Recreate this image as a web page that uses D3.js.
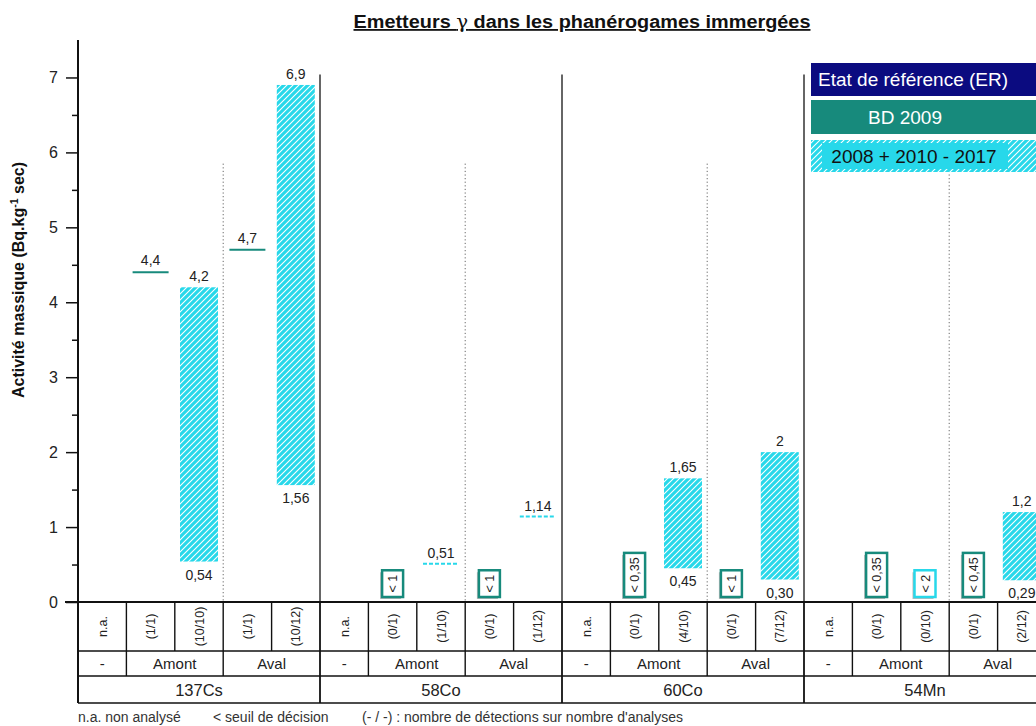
<!DOCTYPE html>
<html><head><meta charset="utf-8">
<script src="https://cdn.jsdelivr.net/npm/d3@7"></script>
<style>
body{margin:0;background:#fff;}
svg{display:block;font-family:"Liberation Sans",Arial,sans-serif;}
</style></head>
<body><svg id="chart" width="1036" height="726"></svg>
<script>
// ---------- data ----------
const groups = ["137Cs", "58Co", "60Co", "54Mn"];
const subColumns = ["na", "amBD", "amS", "avBD", "avS"];
const zoneLabels = ["-", "Amont", "Aval"];
const zoneSpans = [1, 2, 2];
const detections = [
  ["n.a.", "(1/1)", "(10/10)", "(1/1)", "(10/12)"],
  ["n.a.", "(0/1)", "(1/10)", "(0/1)", "(1/12)"],
  ["n.a.", "(0/1)", "(4/10)", "(0/1)", "(7/12)"],
  ["n.a.", "(0/1)", "(0/10)", "(0/1)", "(2/12)"]
];
const yTicks = [0, 1, 2, 3, 4, 5, 6, 7];
// BD 2009 single values: [group, column, value, label]
const bdLevels = [
  ["137Cs", "amBD", 4.4, "4,4"],
  ["137Cs", "avBD", 4.7, "4,7"]
];
// 2008 + 2010-2017 ranges: [group, column, min, max, minLabel, maxLabel]
const rangeBars = [
  ["137Cs", "amS", 0.54, 4.2, "0,54", "4,2"],
  ["137Cs", "avS", 1.56, 6.9, "1,56", "6,9"],
  ["60Co", "amS", 0.45, 1.65, "0,45", "1,65"],
  ["60Co", "avS", 0.30, 2.0, "0,30", "2"],
  ["54Mn", "avS", 0.29, 1.2, "0,29", "1,2"]
];
// single detections of the 2008 + 2010-2017 series
const singleDetections = [
  ["58Co", "amS", 0.51, "0,51"],
  ["58Co", "avS", 1.14, "1,14"]
];
// below decision threshold: [group, column, text, series]
const belowThreshold = [
  ["58Co", "amBD", "< 1", "bd"],
  ["58Co", "avBD", "< 1", "bd"],
  ["60Co", "amBD", "< 0,35", "bd"],
  ["60Co", "avBD", "< 1", "bd"],
  ["54Mn", "amBD", "< 0,35", "bd"],
  ["54Mn", "amS", "< 2", "suivi"],
  ["54Mn", "avBD", "< 0,45", "bd"]
];
const legendItems = ["Etat de référence (ER)", "BD 2009", "2008 + 2010 - 2017"];

// ---------- styles ----------
const NAVY = "#0b0b80", TEAL = "#178a7c", CYAN = "#27d8ea";
const svg = d3.select("#chart");
const defs = svg.append("defs");
const pat = defs.append("pattern").attr("id", "hatch").attr("patternUnits", "userSpaceOnUse")
  .attr("width", 6).attr("height", 6);
pat.append("rect").attr("width", 6).attr("height", 6).attr("fill", CYAN);
pat.append("path").attr("d", "M-1,1 l2,-2 M0,6 l6,-6 M5,7 l2,-2")
  .attr("stroke", "#fff").attr("stroke-width", 1.1);

// ---------- scales ----------
const colKeys = [];
groups.forEach(g => subColumns.forEach(s => colKeys.push(g + "|" + s)));
const x = d3.scaleBand().domain(colKeys).range([78, 78 + 48.4 * colKeys.length]).padding(0);
const gx = d3.scaleBand().domain(groups).range([78, 78 + 48.4 * colKeys.length]).padding(0);
const y = d3.scaleLinear().domain([0, 7.5]).range([602, 40]);
const key = (g, s) => g + "|" + s;
const cx = (g, s) => x(key(g, s)) + x.bandwidth() / 2;

// ---------- title ----------
const title = svg.append("text").attr("x", 582).attr("y", 28).attr("text-anchor", "middle")
  .attr("font-size", 18).attr("font-weight", "bold").attr("text-decoration", "underline").attr("fill", "#111")
  .attr("textLength", 457).attr("lengthAdjust", "spacingAndGlyphs");
title.append("tspan").text("Emetteurs ");
title.append("tspan").attr("font-weight", "normal").attr("font-family", "DejaVu Serif").text("γ");
title.append("tspan").text(" dans les phanérogames immergées");

// ---------- group separators ----------
groups.slice(1).forEach(g => {
  svg.append("line").attr("x1", gx(g)).attr("x2", gx(g)).attr("y1", y(7.04)).attr("y2", y(0))
    .attr("stroke", "#333").attr("stroke-width", 1.5);
});
groups.forEach(g => {
  const xx = x(key(g, "avBD"));
  svg.append("line").attr("x1", xx).attr("x2", xx).attr("y1", y(5.85)).attr("y2", y(0))
    .attr("stroke", "#666").attr("stroke-width", 1).attr("stroke-dasharray", "1.2,2.4");
});

// ---------- axes ----------
const yAxis = svg.append("g").attr("transform", "translate(78,0)")
  .call(d3.axisLeft(y).tickValues(yTicks).tickSize(12).tickPadding(8).tickFormat(d3.format("d")));
yAxis.select(".domain").remove();
yAxis.selectAll(".tick line").attr("stroke", "#111").attr("stroke-width", 1.5);
yAxis.selectAll(".tick text").attr("font-size", 16).attr("fill", "#222").attr("font-family", "Liberation Sans, Arial");
const minor = svg.append("g").attr("transform", "translate(78,0)")
  .call(d3.axisLeft(y).tickValues(d3.range(0.5, 7.5, 1)).tickSize(6).tickFormat(""));
minor.select(".domain").remove();
minor.selectAll(".tick line").attr("stroke", "#111").attr("stroke-width", 1.5);
svg.append("line").attr("x1", 78).attr("x2", 78).attr("y1", y(7.5)).attr("y2", 703).attr("stroke", "#111").attr("stroke-width", 2);
svg.append("line").attr("x1", 65).attr("x2", 1036).attr("y1", y(0)).attr("y2", y(0)).attr("stroke", "#111").attr("stroke-width", 2);

const yl = svg.append("text").attr("transform", "translate(24,280) rotate(-90)").attr("text-anchor", "middle")
  .attr("font-size", 16).attr("font-weight", "bold").attr("fill", "#111");
yl.append("tspan").text("Activité massique (Bq.kg");
yl.append("tspan").attr("font-size", 10.5).attr("dy", -6).text("-1");
yl.append("tspan").attr("dy", 6).text(" sec)");

// ---------- marks ----------
const bw = 38;
svg.selectAll(".rbar").data(rangeBars).join("rect").attr("class", "rbar")
  .attr("x", d => cx(d[0], d[1]) - bw / 2).attr("width", bw)
  .attr("y", d => y(d[3])).attr("height", d => y(d[2]) - y(d[3]))
  .attr("fill", "url(#hatch)");
svg.selectAll(".rtop").data(rangeBars).join("text").attr("class", "rtop")
  .attr("x", d => cx(d[0], d[1])).attr("y", d => y(d[3]) - 6).attr("text-anchor", "middle")
  .attr("font-size", 14).attr("fill", "#222").text(d => d[5]);
svg.selectAll(".rbot").data(rangeBars).join("text").attr("class", "rbot")
  .attr("x", d => cx(d[0], d[1])).attr("y", d => y(d[2]) + 18).attr("text-anchor", "middle")
  .attr("font-size", 14).attr("fill", "#222").text(d => d[4]);

svg.selectAll(".bd").data(bdLevels).join("line").attr("class", "bd")
  .attr("x1", d => cx(d[0], d[1]) - 18).attr("x2", d => cx(d[0], d[1]) + 18)
  .attr("y1", d => y(d[2])).attr("y2", d => y(d[2])).attr("stroke", TEAL).attr("stroke-width", 2);
svg.selectAll(".bdl").data(bdLevels).join("text").attr("class", "bdl")
  .attr("x", d => cx(d[0], d[1])).attr("y", d => y(d[2]) - 7).attr("text-anchor", "middle")
  .attr("font-size", 14).attr("fill", "#222").text(d => d[3]);

svg.selectAll(".sd").data(singleDetections).join("line").attr("class", "sd")
  .attr("x1", d => cx(d[0], d[1]) - 18).attr("x2", d => cx(d[0], d[1]) + 18)
  .attr("y1", d => y(d[2])).attr("y2", d => y(d[2])).attr("stroke", CYAN).attr("stroke-width", 2)
  .attr("stroke-dasharray", "4,2");
svg.selectAll(".sdl").data(singleDetections).join("text").attr("class", "sdl")
  .attr("x", d => cx(d[0], d[1])).attr("y", d => y(d[2]) - 6).attr("text-anchor", "middle")
  .attr("font-size", 14).attr("fill", "#222").text(d => d[3]);

belowThreshold.forEach(d => {
  const c = cx(d[0], d[1]);
  const g = svg.append("g");
  const t = g.append("text").attr("font-size", 12.5).attr("fill", "#222").text(d[2]);
  const len = t.node().getComputedTextLength();
  const h = len + 9, w = 21, bottom = y(0) - 5;
  g.insert("rect", "text").attr("x", c - w / 2 - 2).attr("y", bottom - h + 2).attr("width", w).attr("height", h)
    .attr("fill", "#bbb");
  g.insert("rect", "text").attr("x", c - w / 2).attr("y", bottom - h).attr("width", w).attr("height", h)
    .attr("fill", "#fff").attr("stroke", d[3] === "bd" ? TEAL : CYAN).attr("stroke-width", 2.5);
  t.attr("transform", `translate(${c + 4.5},${bottom - h / 2}) rotate(-90)`).attr("text-anchor", "middle");
});

// ---------- legend ----------
const lx = 811, lw = 240;
const lg = svg.append("g");
lg.append("rect").attr("x", lx).attr("y", 63).attr("width", lw).attr("height", 33).attr("fill", NAVY);
lg.append("text").attr("x", 818).attr("y", 86).attr("font-size", 19).attr("fill", "#fff").text(legendItems[0]);
lg.append("rect").attr("x", lx).attr("y", 100).attr("width", lw).attr("height", 34).attr("fill", TEAL);
lg.append("text").attr("x", 905).attr("y", 124).attr("text-anchor", "middle").attr("font-size", 19).attr("fill", "#fff").text(legendItems[1]);
lg.append("rect").attr("x", lx).attr("y", 140).attr("width", lw).attr("height", 32).attr("fill", "url(#hatch)");
lg.append("rect").attr("x", 822).attr("y", 143).attr("width", 186).attr("height", 26).attr("fill", CYAN);
lg.append("text").attr("x", 914).attr("y", 163).attr("text-anchor", "middle").attr("font-size", 19).attr("fill", "#111").text(legendItems[2]);

// ---------- table ----------
const tb = svg.append("g");
const rows = [602, 651, 676, 703];
const xEnd = 1046;
rows.slice(1).forEach(r => tb.append("line").attr("x1", 78).attr("x2", xEnd).attr("y1", r).attr("y2", r)
  .attr("stroke", "#111").attr("stroke-width", 1.6));
groups.forEach((g, gi) => {
  subColumns.forEach((s, si) => {
    const x0 = x(key(g, s));
    if (si > 0) tb.append("line").attr("x1", x0).attr("x2", x0).attr("y1", rows[0]).attr("y2", rows[1]).attr("stroke", "#111").attr("stroke-width", 1.4);
    tb.append("text").attr("transform", `translate(${x0 + x.bandwidth() / 2 + 4.5},${(rows[0] + rows[1]) / 2}) rotate(-90)`)
      .attr("text-anchor", "middle").attr("font-size", 12.5).attr("fill", "#222").text(detections[gi][si]);
  });
  let ci = 0;
  zoneLabels.forEach((z, zi) => {
    const x0 = x(key(g, subColumns[ci]));
    const x1 = x0 + x.bandwidth() * zoneSpans[zi];
    if (zi > 0) tb.append("line").attr("x1", x0).attr("x2", x0).attr("y1", rows[1]).attr("y2", rows[2]).attr("stroke", "#111").attr("stroke-width", 1.4);
    tb.append("text").attr("x", (x0 + x1) / 2).attr("y", rows[1] + 18).attr("text-anchor", "middle")
      .attr("font-size", 15).attr("fill", "#222").text(z);
    ci += zoneSpans[zi];
  });
  const gx0 = gx(g);
  if (gi > 0) tb.append("line").attr("x1", gx0).attr("x2", gx0).attr("y1", rows[0]).attr("y2", rows[3]).attr("stroke", "#111").attr("stroke-width", 1.8);
  tb.append("text").attr("x", gx0 + gx.bandwidth() / 2).attr("y", rows[2] + 20).attr("text-anchor", "middle")
    .attr("font-size", 16.5).attr("fill", "#222").text(g);
});

// ---------- footnote ----------
const fn = svg.append("g").attr("font-size", 14).attr("fill", "#333");
fn.append("text").attr("x", 78).attr("y", 722).text("n.a. non analysé");
fn.append("text").attr("x", 213).attr("y", 722).text("< seuil de décision");
fn.append("text").attr("x", 362).attr("y", 722).text("(- / -) : nombre de détections sur nombre d'analyses");
</script></body></html>
